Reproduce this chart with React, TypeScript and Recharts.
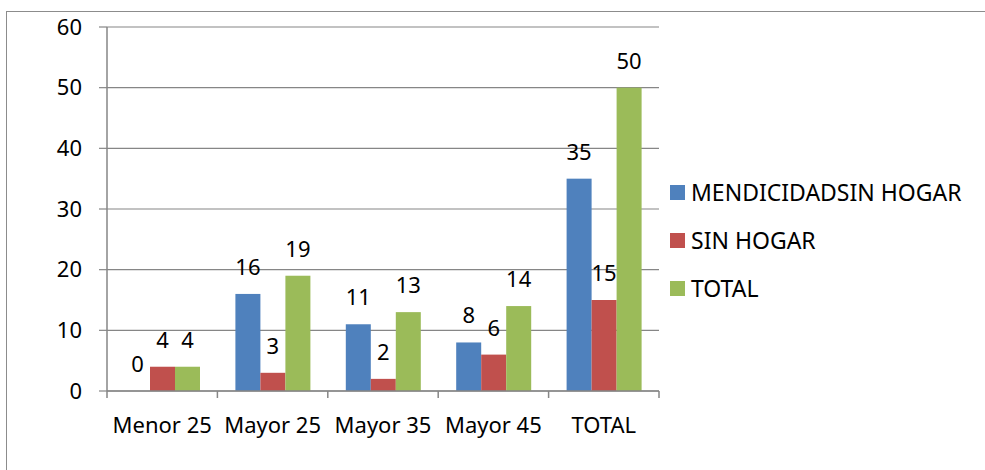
import React from "react";
import {
  Bar,
  BarChart,
  CartesianGrid,
  LabelList,
  Legend,
  XAxis,
  YAxis,
} from "recharts";

const categories = ["Menor 25", "Mayor 25", "Mayor 35", "Mayor 45", "TOTAL"];
const mendicidad = [0, 16, 11, 8, 35];
const sinHogar = [4, 3, 2, 6, 15];
const total = [4, 19, 13, 14, 50];
const yTicks = [0, 10, 20, 30, 40, 50, 60];

const series = [
  { key: "mendicidad", name: "MENDICIDADSIN HOGAR", color: "#4F81BD" },
  { key: "sinHogar", name: "SIN HOGAR", color: "#C0504D" },
  { key: "total", name: "TOTAL", color: "#9BBB59" },
];

const data = categories.map((name, i) => ({
  name,
  mendicidad: mendicidad[i],
  sinHogar: sinHogar[i],
  total: total[i],
}));

const FONT = "'Noto Sans', 'Open Sans', sans-serif";
const GREY = "#868686";

function CategoryTick(props: any) {
  const { x, y, payload, index, visibleTicksCount } = props;
  const half = payload?.offset ?? 0;
  const last = index === visibleTicksCount - 1;
  return (
    <g>
      <line x1={x - half} y1={y} x2={x - half} y2={y + 7} stroke={GREY} strokeWidth={1.5} />
      {last && (
        <line x1={x + half} y1={y} x2={x + half} y2={y + 7} stroke={GREY} strokeWidth={1.5} />
      )}
      <text x={x} y={y + 42} textAnchor="middle" fill="#000" fontSize={22} fontFamily={FONT}>
        {payload.value}
      </text>
    </g>
  );
}

// bars of height 0 are dropped with their labels, so keep a 1px bar and hide it
function BarShape(props: any) {
  const { x, y, width, height, fill, value } = props;
  const v = Array.isArray(value) ? value[1] - value[0] : value;
  if (!v) return <g />;
  return <rect x={x} y={y} width={width} height={height} fill={fill} />;
}

function BarLabel(props: any) {
  const { x, y, width, height, value } = props;
  const v = Number(value) || 0;
  const top = v === 0 ? y + height : y;
  return (
    <text
      x={x + width / 2}
      y={top - 19}
      textAnchor="middle"
      fill="#000"
      fontSize={22}
      fontFamily={FONT}
    >
      {v}
    </text>
  );
}

function LegendBox() {
  return (
    <div style={{ fontFamily: FONT, fontSize: 23, color: "#000" }}>
      {series.map((s) => (
        <div key={s.key} style={{ display: "flex", alignItems: "center", height: 48 }}>
          <span
            style={{ width: 15, height: 15, background: s.color, marginRight: 6, flex: "none" }}
          />
          <span style={{ whiteSpace: "nowrap" }}>{s.name}</span>
        </div>
      ))}
    </div>
  );
}

export default function App() {
  return (
    <div
      style={{
        position: "absolute",
        left: 0,
        top: 0,
        width: 985,
        height: 470,
        overflow: "hidden",
        background: "#fff",
      }}
    >
      <div
        style={{
          position: "absolute",
          left: 6,
          top: 11,
          width: 1000,
          height: 500,
          borderLeft: "1.5px solid #8c8c8c",
          borderTop: "1.5px solid #8c8c8c",
        }}
      />
      <BarChart
        width={985}
        height={470}
        data={data}
        margin={{ top: 27, right: 326, bottom: 39, left: 47 }}
        barCategoryGap={18}
        barGap={0}
        style={{ position: "absolute", left: 0, top: 0 }}
      >
        <CartesianGrid vertical={false} stroke={GREY} strokeWidth={1.2} />
        <XAxis
          dataKey="name"
          height={40}
          axisLine={{ stroke: GREY, strokeWidth: 1.5 }}
          tickLine={false}
          tickSize={0}
          tickMargin={0}
          interval={0}
          tick={<CategoryTick />}
        />
        <YAxis
          width={60}
          domain={[0, 60]}
          ticks={yTicks}
          interval={0}
          axisLine={{ stroke: GREY, strokeWidth: 1.5 }}
          tickLine={{ stroke: GREY, strokeWidth: 1.2 }}
          tickSize={8}
          tickMargin={17}
          tick={{ fill: "#000", fontSize: 22, fontFamily: FONT }}
        />
        <Legend
          layout="vertical"
          align="center"
          verticalAlign="middle"
          content={<LegendBox />}
          wrapperStyle={{ left: 670, top: 168, width: 310 }}
        />
        {series.map((s) => (
          <Bar
            key={s.key}
            dataKey={s.key}
            name={s.name}
            fill={s.color}
            minPointSize={1}
            shape={<BarShape />}
            isAnimationActive={false}
          >
            <LabelList dataKey={s.key} content={<BarLabel />} />
          </Bar>
        ))}
      </BarChart>
    </div>
  );
}
